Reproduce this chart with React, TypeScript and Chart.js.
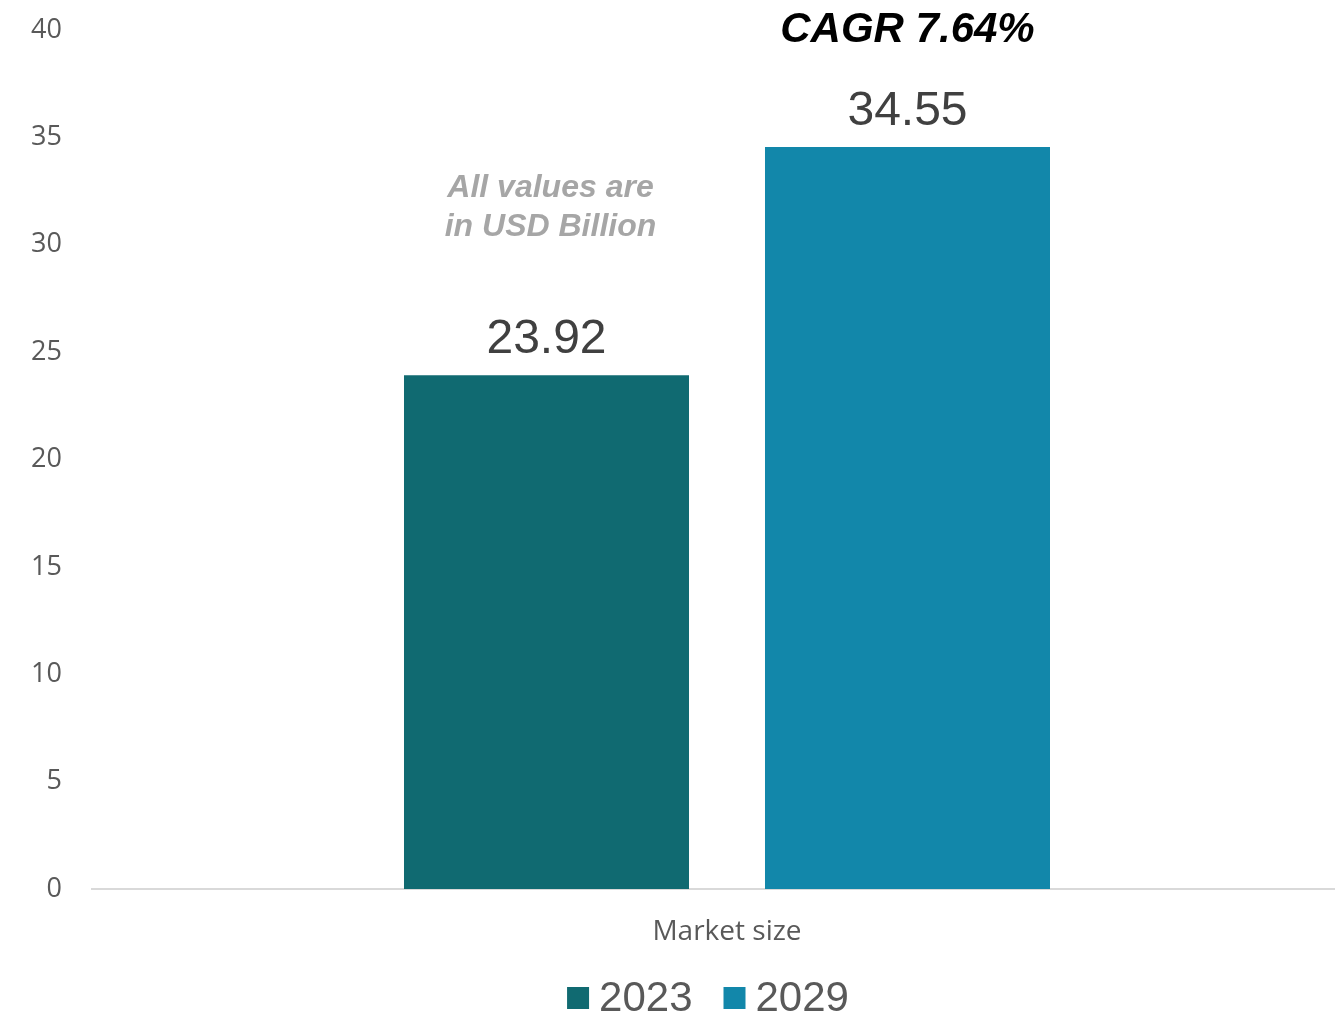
import React, { useEffect, useRef } from "react";
import { Chart, registerables } from "chart.js";

Chart.register(...registerables);

const categories = ["Market size"];
const seriesLabels = ["2023", "2029"];
const seriesValues = [[23.92], [34.55]];
const seriesColors = ["#106A71", "#1287AA"];
const yTicks = [0, 5, 10, 15, 20, 25, 30, 35, 40];
const cagrText = "CAGR 7.64%";
const noteLines = ["All values are", "in USD Billion"];

const W = 1362;
const H = 1017;

const overlayPlugin = {
  id: "overlay",
  afterDatasetsDraw(chart: any) {
    const ctx = chart.ctx;
    ctx.save();
    chart.data.datasets.forEach((ds: any, i: number) => {
      const meta = chart.getDatasetMeta(i);
      meta.data.forEach((el: any, j: number) => {
        ctx.font = "48px 'Liberation Sans', Arial, sans-serif";
        ctx.fillStyle = "#404040";
        ctx.textAlign = "center";
        ctx.textBaseline = "alphabetic";
        ctx.fillText(ds.data[j].toFixed(2), el.x, el.y - 22);
      });
    });
    const last = chart.getDatasetMeta(chart.data.datasets.length - 1).data[0];
    ctx.font = "italic bold 42px 'Liberation Sans', Arial, sans-serif";
    ctx.fillStyle = "#000000";
    ctx.textAlign = "center";
    ctx.fillText(cagrText, last.x, 42);
    const first = chart.getDatasetMeta(0).data[0];
    ctx.font = "italic bold 32px 'Liberation Sans', Arial, sans-serif";
    ctx.fillStyle = "#A6A6A6";
    ctx.fillText(noteLines[0], first.x + 4, 197);
    ctx.fillText(noteLines[1], first.x + 4, 236);
    ctx.restore();
  },
  afterDraw(chart: any) {
    const ctx = chart.ctx;
    ctx.save();
    ctx.font = "42px 'Liberation Sans', Arial, sans-serif";
    const box = 22;
    const gapBoxText = 10;
    const gapItems = 31;
    const items = chart.data.datasets.map((ds: any) => ({
      label: ds.label,
      color: ds.backgroundColor,
      w: ctx.measureText(ds.label).width,
    }));
    const total =
      items.reduce((s: number, it: any) => s + box + gapBoxText + it.w, 0) +
      gapItems * (items.length - 1);
    let x = 708 - total / 2;
    const cy = 998;
    items.forEach((it: any) => {
      ctx.fillStyle = it.color;
      ctx.fillRect(x, cy - box / 2, box, box);
      x += box + gapBoxText;
      ctx.fillStyle = "#595959";
      ctx.textAlign = "left";
      ctx.textBaseline = "middle";
      ctx.fillText(it.label, x, cy + 1);
      x += it.w + gapItems;
    });
    ctx.restore();
  },
};

export default function App() {
  const ref = useRef<HTMLCanvasElement>(null);
  useEffect(() => {
    document.body.style.margin = "0";
    const chart = new Chart(ref.current as HTMLCanvasElement, {
      type: "bar",
      data: {
        labels: categories,
        datasets: seriesLabels.map((label, i) => ({
          label,
          data: seriesValues[i],
          backgroundColor: seriesColors[i],
          borderWidth: 0,
          categoryPercentage: 0.5685,
          barPercentage: 0.7895,
        })),
      },
      options: {
        responsive: false,
        animation: false,
        devicePixelRatio: 1,
        layout: { padding: { top: 30, left: 0, right: 0, bottom: 0 } },
        plugins: {
          legend: { display: false },
          tooltip: { enabled: false },
          title: { display: false },
        },
        scales: {
          x: {
            grid: { display: false, drawTicks: false },
            border: { display: true, color: "#D9D9D9", width: 2 },
            ticks: {
              color: "#595959",
              font: { family: "'Open Sans', sans-serif", size: 28 },
              padding: 26,
            },
            afterFit: (s: any) => {
              s.height = H - 889;
              s.paddingLeft = 0;
              s.paddingRight = 0;
            },
          },
          y: {
            min: 0,
            max: 40,
            afterBuildTicks: (s: any) => {
              s.ticks = yTicks.map((v) => ({ value: v }));
            },
            grid: { display: false, drawTicks: false },
            border: { display: false },
            ticks: {
              color: "#595959",
              font: { family: "'Open Sans', sans-serif", size: 27 },
              padding: 30,
            },
            afterFit: (s: any) => {
              s.width = 92;
              s.paddingTop = 0;
              s.paddingBottom = 0;
            },
          },
        },
      },
      plugins: [overlayPlugin],
    } as any);
    return () => chart.destroy();
  }, []);
  return (
    <div style={{ width: 1335, height: H, overflow: "hidden", position: "relative" }}>
      <canvas ref={ref} width={W} height={H} style={{ display: "block", width: W, height: H }} />
    </div>
  );
}
